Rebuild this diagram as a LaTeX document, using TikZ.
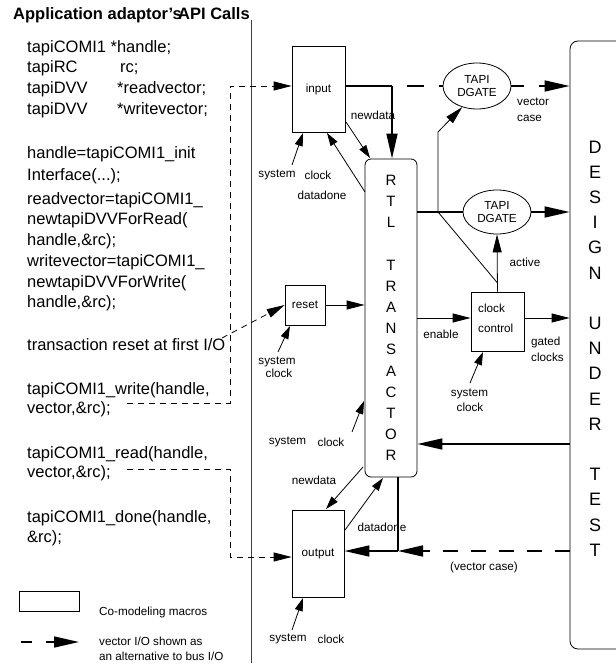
\documentclass[tikz,border=0pt]{standalone}
\usepackage{fontspec}
\setmainfont{Liberation Sans}
\usetikzlibrary{arrows.meta,shapes.geometric}
\begin{document}
\begin{tikzpicture}[x=1pt,y=-1pt,
  thinl/.style={line width=0.8pt},
  thickl/.style={line width=1.6pt},
  tdash/.style={line width=0.8pt, dash pattern=on 6pt off 5pt},
  Tdash/.style={line width=1.6pt, dash pattern=on 17pt off 15pt},
  big/.style={-{Triangle[length=25pt,width=11pt]}},
  med/.style={-{Triangle[length=18pt,width=9pt]}},
  sml/.style={-{Triangle[length=13pt,width=8pt]}},
  box/.style={draw, line width=0.8pt, inner sep=0pt},
  lt/.style={font=\fontsize{16.5}{19}\selectfont, anchor=base west, inner sep=0pt},
  st/.style={font=\fontsize{11.7}{13}\selectfont, inner sep=0pt},
]
\useasboundingbox (0,0) rectangle (615,671);

% title
\node[font=\fontsize{16.5}{19}\selectfont\bfseries, anchor=base west, inner sep=0pt] (t1) at (13,20) {Application adaptor's};
\node[font=\fontsize{16.5}{19}\selectfont\bfseries, anchor=base west, inner sep=0pt] (t2) at (178,20) {API Calls};

% separator
\coordinate (s1) at (251,20);
\coordinate (s2) at (251,663);
\draw[line width=0.9pt, black!75] (s1) -- (s2);

% left column
\node[lt] (l1) at (27,53) {tapiCOMI1 *handle;};
\node[lt] (l2) at (27,73) {tapiRC};
\node[lt] (l2b) at (120,73) {rc;};
\node[lt] (l3) at (27,94) {tapiDVV};
\node[lt] (l3b) at (117,94) {*readvector;};
\node[lt] (l4) at (27,115) {tapiDVV};
\node[lt] (l4b) at (117,115) {*writevector;};
\node[lt] (l5) at (27,159) {handle=tapiCOMI1\_init};
\node[lt] (l6) at (27,180) {Interface(...);};
\node[lt] (l7) at (27,204) {readvector=tapiCOMI1\_};
\node[lt] (l8) at (27,224) {newtapiDVVForRead(};
\node[lt] (l9) at (27,245) {handle,\&rc);};
\node[lt] (l10) at (27,266) {writevector=tapiCOMI1\_};
\node[lt] (l11) at (27,287) {newtapiDVVForWrite(};
\node[lt] (l12) at (27,307) {handle,\&rc);};
\node[lt] (l13) at (27,350) {transaction reset at first I/O};
\node[lt] (l14) at (27,394) {tapiCOMI1\_write(handle,};
\node[lt] (l15) at (27,413) {vector,\&rc);};
\node[lt] (l16) at (27,458) {tapiCOMI1\_read(handle,};
\node[lt] (l17) at (27,477) {vector,\&rc);};
\node[lt] (l18) at (27,522) {tapiCOMI1\_done(handle,};
\node[lt] (l19) at (27,542) {\&rc);};

% boxes
\node[box, st, minimum width=53pt, minimum height=86pt] (input) at (318.5,89) {input};
\node[box, rounded corners=6pt, minimum width=52pt, minimum height=318pt,
      font=\fontsize{15}{21.15}\selectfont, align=center] (rtl) at (391,318)
      {R\\T\\L\\\mbox{}\\T\\R\\A\\N\\S\\A\\C\\T\\O\\R};
\node[box, st, minimum width=40pt, minimum height=40pt] (reset) at (305,305) {reset};
\node[box, minimum width=53pt, minimum height=59pt] (cc) at (497.5,321.5) {};
\node[st, anchor=west] (cct1) at (478,308) {clock};
\node[st, anchor=west] (cct2) at (478,328) {control};
\node[box, st, minimum width=52pt, minimum height=87pt] (output) at (318,553.5) {output};
\node[draw, ellipse, line width=0.8pt, st, align=center, minimum width=68pt, minimum height=46pt] (tapi1) at (477,86) {TAPI\\DGATE};
\node[draw, ellipse, line width=0.8pt, st, align=center, minimum width=68pt, minimum height=44pt] (tapi2) at (497,212) {TAPI\\DGATE};
\node[box, rounded corners=8pt, minimum width=70pt, minimum height=608pt] (dut) at (605,345) {};
\node[font=\fontsize{18}{25.2}\selectfont, align=center, inner sep=0pt] (duttxt) at (595,348.5)
  {D\\E\\S\\I\\G\\N\\\mbox{}\\U\\N\\D\\E\\R\\\mbox{}\\T\\E\\S\\T};

% dashed API connections
\coordinate (wa) at (127,403);
\coordinate (wb) at (230,403);
\coordinate (wc) at (230,86);
\draw[tdash, med] (wa) -- (wb) -- (wc) -- (wc -| input.west);
\coordinate (ra) at (222,338);
\draw[tdash, med] (ra) -- (reset.west);
\coordinate (da) at (127,469);
\coordinate (db) at (230,469);
\coordinate (dc) at (230,557);
\draw[tdash, med] (da) -- (db) -- (dc) -- (dc -| output.west);

% input side
\coordinate (j1) at (392,86);
\draw[thickl] (j1 -| input.east) -- (j1);
\draw[Tdash, dash phase=17pt] (j1) -- (tapi1.west);
\draw[Tdash, dash pattern=on 13pt off 15pt, big] (tapi1.east) -- (tapi1.east -| dut.west);
\draw[thickl, big] (j1) -- (j1 |- rtl.north);
\coordinate (nd1) at (346,122);
\coordinate (nd2) at (370,158);
\draw[thinl, sml] (nd1) -- (nd2);
\coordinate (dd1) at (365,192);
\coordinate (dd2) at (327,133);
\draw[thinl, sml] (dd1) -- (dd2);
\coordinate (sc1) at (292,165);
\coordinate (sc2) at (303,133);
\draw[thinl, sml] (sc1) -- (sc2);

% RTL to DGATEs
\coordinate (j2) at (438,212);
\coordinate (j3) at (438,132);
\coordinate (aj) at (497.5,283);
\draw[thickl] (j2 -| rtl.east) -- (tapi2.west);
\draw[thickl, big] (tapi2.east) -- (tapi2.east -| dut.west);
\draw[thinl, med] (j2) -- (j3) -- (tapi1.235);
\draw[thinl] (j2) -- (aj);
\draw[thinl, med] (cc.north) -- (tapi2.south);

% enable / gated clocks
\coordinate (en) at (417,318);
\draw[thinl, med] (en) -- (en -| cc.west);
\draw[thinl, med] (en -| cc.east) -- (en -| dut.west);

% reset
\draw[thinl, med] (reset.east) -- (reset.east -| rtl.west);
\coordinate (sr1) at (278,352);
\coordinate (sr2) at (290,326);
\draw[thinl, sml] (sr1) -- (sr2);
\coordinate (scc1) at (470,383);
\coordinate (scc2) at (483,352);
\draw[thinl, sml] (scc1) -- (scc2);
\coordinate (srt1) at (352,432);
\coordinate (srt2) at (364,401);
\draw[thinl, sml] (srt1) -- (srt2);

% DUT to RTL
\coordinate (k) at (570,444);
\draw[thickl, big] (k) -- (k -| rtl.east);

% output side
\coordinate (on1) at (363,467);
\coordinate (on2) at (326,509);
\draw[thinl, sml] (on1) -- (on2);
\coordinate (od1) at (345,530);
\coordinate (od2) at (383,478);
\draw[thinl, sml] (od1) -- (od2);
\coordinate (j4) at (398,551);
\draw[thickl] (j4 |- rtl.south) -- (j4);
\draw[thickl, big] (j4) -- (j4 -| output.east);
\draw[Tdash, dash pattern=on 15pt off 13pt, big] (j4 -| dut.west) -- (j4);
\coordinate (so1) at (292,630);
\coordinate (so2) at (303,598);
\draw[thinl, sml] (so1) -- (so2);

% labels
\node[st] (lb1) at (373,115) {newdata};
\node[st] (lb2) at (277,175) {system};
\node[st] (lb3) at (318,175) {clock};
\node[st] (lb4) at (322,195) {datadone};
\node[st, anchor=west] (lb5) at (517,102) {vector};
\node[st, anchor=west] (lb6) at (517,118) {case};
\node[st] (lb7) at (525,262) {active};
\node[st] (lb8) at (441,334) {enable};
\node[st, anchor=west] (lb9) at (531,342) {gated};
\node[st, anchor=west] (lb10) at (531,357) {clocks};
\node[st] (lb11) at (277,362) {system};
\node[st] (lb12) at (279,373) {clock};
\node[st] (lb13) at (469.5,394) {system};
\node[st] (lb14) at (470,407) {clock};
\node[st] (lb15) at (287.5,442) {system};
\node[st] (lb16) at (331,442) {clock};
\node[st] (lb17) at (314,480) {newdata};
\node[st] (lb18) at (382,527) {datadone};
\node[st] (lb19) at (484,567) {(vector case)};
\node[st] (lb20) at (288,639) {system};
\node[st] (lb21) at (331,639) {clock};

% legend
\node[box, minimum width=60pt, minimum height=20pt] (legbox) at (49,601) {};
\node[st, anchor=west] (leg1) at (99,612) {Co-modeling macros};
\coordinate (la) at (21,642);
\coordinate (lbb) at (79,642);
\draw[line width=1.6pt, dash pattern=on 11pt off 14pt, big] (la) -- (lbb);
\node[st, anchor=west] (leg2) at (99,641) {vector I/O shown as};
\node[st, anchor=west] (leg3) at (99,656) {an alternative to bus I/O};
\end{tikzpicture}
\end{document}
